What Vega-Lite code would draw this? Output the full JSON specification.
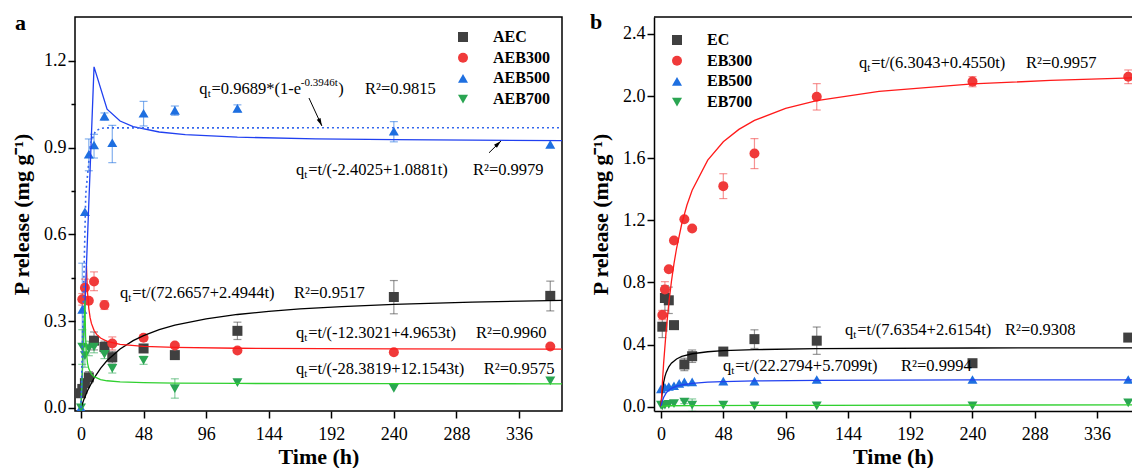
{
  "$schema": "https://vega.github.io/schema/vega-lite/v6.json",
  "background": "white",
  "padding": {"left": 9, "top": 10, "right": 0, "bottom": 0},
  "bounds": "flush",
  "spacing": 92,
  "config": {
    "font": "Liberation Serif",
    "view": {"stroke": "#000", "strokeWidth": 1.5},
    "axis": {"labelFont": "Liberation Serif", "labelFontSize": 18, "labelColor": "#000", "titleFont": "Liberation Serif", "titleFontSize": 22, "titleFontWeight": "bold", "titleColor": "#000", "domain": false, "tickColor": "#000", "tickWidth": 1.5, "grid": false},
    "legend": {"title": null, "labelFont": "Liberation Serif", "labelFontWeight": "bold", "labelFontSize": 16, "labelColor": "#000", "symbolSize": 100, "symbolOpacity": 1, "rowPadding": 4.7, "padding": 0, "labelOffset": 22, "symbolStrokeWidth": 0}
  },
  "resolve": {"scale": {"x": "independent", "y": "independent", "color": "independent", "shape": "independent", "stroke": "independent"}, "legend": {"color": "independent", "shape": "independent"}},
  "datasets": {
    "a_pts": [
      {"s": "AEC", "t": 0, "v": 0.05}, {"s": "AEC", "t": 1, "v": 0.065}, {"s": "AEC", "t": 3, "v": 0.085}, {"s": "AEC", "t": 6, "v": 0.105}, {"s": "AEC", "t": 10, "v": 0.232}, {"s": "AEC", "t": 18, "v": 0.21}, {"s": "AEC", "t": 24, "v": 0.175}, {"s": "AEC", "t": 48, "v": 0.205}, {"s": "AEC", "t": 72, "v": 0.182}, {"s": "AEC", "t": 120, "v": 0.266}, {"s": "AEC", "t": 240, "v": 0.383}, {"s": "AEC", "t": 360, "v": 0.387},
      {"s": "AEB300", "t": 1, "v": 0.375}, {"s": "AEB300", "t": 3, "v": 0.415}, {"s": "AEB300", "t": 6, "v": 0.37}, {"s": "AEB300", "t": 10, "v": 0.437}, {"s": "AEB300", "t": 18, "v": 0.355}, {"s": "AEB300", "t": 24, "v": 0.222}, {"s": "AEB300", "t": 48, "v": 0.242}, {"s": "AEB300", "t": 72, "v": 0.215}, {"s": "AEB300", "t": 120, "v": 0.198}, {"s": "AEB300", "t": 240, "v": 0.192}, {"s": "AEB300", "t": 360, "v": 0.212},
      {"s": "AEB500", "t": 0, "v": 0}, {"s": "AEB500", "t": 1, "v": 0.34}, {"s": "AEB500", "t": 3, "v": 0.678}, {"s": "AEB500", "t": 6, "v": 0.877}, {"s": "AEB500", "t": 10, "v": 0.909}, {"s": "AEB500", "t": 18, "v": 1.009}, {"s": "AEB500", "t": 24, "v": 0.917}, {"s": "AEB500", "t": 48, "v": 1.019}, {"s": "AEB500", "t": 72, "v": 1.029}, {"s": "AEB500", "t": 120, "v": 1.036}, {"s": "AEB500", "t": 240, "v": 0.957}, {"s": "AEB500", "t": 360, "v": 0.911},
      {"s": "AEB700", "t": 0, "v": 0}, {"s": "AEB700", "t": 1, "v": 0.21}, {"s": "AEB700", "t": 3, "v": 0.18}, {"s": "AEB700", "t": 6, "v": 0.205}, {"s": "AEB700", "t": 10, "v": 0.21}, {"s": "AEB700", "t": 18, "v": 0.185}, {"s": "AEB700", "t": 24, "v": 0.136}, {"s": "AEB700", "t": 48, "v": 0.164}, {"s": "AEB700", "t": 72, "v": 0.066}, {"s": "AEB700", "t": 120, "v": 0.087}, {"s": "AEB700", "t": 240, "v": 0.067}, {"s": "AEB700", "t": 360, "v": 0.093}
    ],
    "a_err": [
      {"s": "AEC", "t": 6, "lo": 0.085, "hi": 0.125}, {"s": "AEC", "t": 10, "lo": 0.2, "hi": 0.262}, {"s": "AEC", "t": 18, "lo": 0.19, "hi": 0.23}, {"s": "AEC", "t": 24, "lo": 0.155, "hi": 0.195}, {"s": "AEC", "t": 48, "lo": 0.195, "hi": 0.215}, {"s": "AEC", "t": 120, "lo": 0.236, "hi": 0.296}, {"s": "AEC", "t": 240, "lo": 0.325, "hi": 0.44}, {"s": "AEC", "t": 360, "lo": 0.335, "hi": 0.438},
      {"s": "AEB300", "t": 1, "lo": 0.355, "hi": 0.395}, {"s": "AEB300", "t": 3, "lo": 0.385, "hi": 0.445}, {"s": "AEB300", "t": 10, "lo": 0.405, "hi": 0.47}, {"s": "AEB300", "t": 18, "lo": 0.34, "hi": 0.37}, {"s": "AEB300", "t": 24, "lo": 0.2, "hi": 0.245}, {"s": "AEB300", "t": 48, "lo": 0.232, "hi": 0.252},
      {"s": "AEB500", "t": 1, "lo": 0.22, "hi": 0.5}, {"s": "AEB500", "t": 6, "lo": 0.82, "hi": 0.93}, {"s": "AEB500", "t": 10, "lo": 0.864, "hi": 0.946}, {"s": "AEB500", "t": 18, "lo": 0.995, "hi": 1.02}, {"s": "AEB500", "t": 24, "lo": 0.848, "hi": 0.977}, {"s": "AEB500", "t": 48, "lo": 0.975, "hi": 1.06}, {"s": "AEB500", "t": 72, "lo": 1.012, "hi": 1.044}, {"s": "AEB500", "t": 120, "lo": 1.024, "hi": 1.048}, {"s": "AEB500", "t": 240, "lo": 0.92, "hi": 0.99},
      {"s": "AEB700", "t": 1, "lo": 0.15, "hi": 0.27}, {"s": "AEB700", "t": 3, "lo": 0.14, "hi": 0.22}, {"s": "AEB700", "t": 6, "lo": 0.18, "hi": 0.23}, {"s": "AEB700", "t": 10, "lo": 0.19, "hi": 0.235}, {"s": "AEB700", "t": 18, "lo": 0.17, "hi": 0.2}, {"s": "AEB700", "t": 24, "lo": 0.12, "hi": 0.15}, {"s": "AEB700", "t": 48, "lo": 0.15, "hi": 0.178}, {"s": "AEB700", "t": 72, "lo": 0.033, "hi": 0.1}
    ],
    "a_fit": [
      {"s": "AEC", "t": 0, "v": 0}, {"s": "AEC", "t": 2, "v": 0.0258}, {"s": "AEC", "t": 5, "v": 0.0587}, {"s": "AEC", "t": 10, "v": 0.1024}, {"s": "AEC", "t": 15, "v": 0.1363}, {"s": "AEC", "t": 20, "v": 0.1632}, {"s": "AEC", "t": 30, "v": 0.2034}, {"s": "AEC", "t": 40, "v": 0.232}, {"s": "AEC", "t": 48, "v": 0.2495}, {"s": "AEC", "t": 60, "v": 0.2699}, {"s": "AEC", "t": 72, "v": 0.2854}, {"s": "AEC", "t": 96, "v": 0.3076}, {"s": "AEC", "t": 120, "v": 0.3226}, {"s": "AEC", "t": 144, "v": 0.3334}, {"s": "AEC", "t": 168, "v": 0.3417}, {"s": "AEC", "t": 200, "v": 0.3499}, {"s": "AEC", "t": 240, "v": 0.3575}, {"s": "AEC", "t": 300, "v": 0.3654}, {"s": "AEC", "t": 369, "v": 0.3716},
      {"s": "AEB300", "t": 4.2, "v": 0.491}, {"s": "AEB300", "t": 4.5, "v": 0.448}, {"s": "AEB300", "t": 5, "v": 0.399}, {"s": "AEB300", "t": 6, "v": 0.343}, {"s": "AEB300", "t": 7, "v": 0.3117}, {"s": "AEB300", "t": 8, "v": 0.2918}, {"s": "AEB300", "t": 10, "v": 0.2677}, {"s": "AEB300", "t": 12, "v": 0.2538}, {"s": "AEB300", "t": 15, "v": 0.2412}, {"s": "AEB300", "t": 20, "v": 0.2298}, {"s": "AEB300", "t": 30, "v": 0.2195}, {"s": "AEB300", "t": 48, "v": 0.2124}, {"s": "AEB300", "t": 72, "v": 0.2086}, {"s": "AEB300", "t": 120, "v": 0.2057}, {"s": "AEB300", "t": 240, "v": 0.2035}, {"s": "AEB300", "t": 369, "v": 0.2028},
      {"s": "AEB500", "t": 0, "v": 0}, {"s": "AEB500", "t": 10, "v": 1.1794}, {"s": "AEB500", "t": 20, "v": 1.0331}, {"s": "AEB500", "t": 30, "v": 0.992}, {"s": "AEB500", "t": 40, "v": 0.9727}, {"s": "AEB500", "t": 60, "v": 0.9541}, {"s": "AEB500", "t": 80, "v": 0.9451}, {"s": "AEB500", "t": 120, "v": 0.9363}, {"s": "AEB500", "t": 180, "v": 0.9304}, {"s": "AEB500", "t": 240, "v": 0.9276}, {"s": "AEB500", "t": 300, "v": 0.9258}, {"s": "AEB500", "t": 369, "v": 0.9245},
      {"s": "AEB700", "t": 0, "v": 0}, {"s": "AEB700", "t": 3, "v": 0.371}, {"s": "AEB700", "t": 3.5, "v": 0.2472}, {"s": "AEB700", "t": 4, "v": 0.1977}, {"s": "AEB700", "t": 5, "v": 0.1544}, {"s": "AEB700", "t": 6, "v": 0.1347}, {"s": "AEB700", "t": 8, "v": 0.1162}, {"s": "AEB700", "t": 10, "v": 0.1073}, {"s": "AEB700", "t": 15, "v": 0.0974}, {"s": "AEB700", "t": 20, "v": 0.0932}, {"s": "AEB700", "t": 30, "v": 0.0892}, {"s": "AEB700", "t": 48, "v": 0.0865}, {"s": "AEB700", "t": 72, "v": 0.085}, {"s": "AEB700", "t": 120, "v": 0.0839}, {"s": "AEB700", "t": 240, "v": 0.0831}, {"s": "AEB700", "t": 369, "v": 0.0828}
    ],
    "a_dot": [
      {"t": 0, "v": 0}, {"t": 3.66, "v": 0.7403}, {"t": 7.32, "v": 0.915}, {"t": 10.98, "v": 0.9562}, {"t": 14.64, "v": 0.9659}, {"t": 18.3, "v": 0.9682}, {"t": 369, "v": 0.9689}
    ],
    "a_lab": [{"t": -4.6, "v": 1.352, "txt": "a"}],
    "a_eq": [
      {"t": 90.8, "v": 1.103, "rest": "=0.9689*(1-e"},
      {"t": 164.9, "v": 0.8225, "rest": "=t/(-2.4025+1.0881t)"},
      {"t": 29.9, "v": 0.398, "rest": "=t/(72.6657+2.4944t)"},
      {"t": 164.9, "v": 0.2595, "rest": "=t/(-12.3021+4.9653t)"},
      {"t": 164.9, "v": 0.133, "rest": "=t/(-28.3819+12.1543t)"}
    ],
    "a_eq1": [{"t": 90.8, "v": 1.103}],
    "a_r2": [
      {"t": 217.9, "v": 1.103, "txt": "R²=0.9815"},
      {"t": 300.7, "v": 0.8225, "txt": "R²=0.9979"},
      {"t": 163.4, "v": 0.398, "txt": "R²=0.9517"},
      {"t": 303, "v": 0.2595, "txt": "R²=0.9960"},
      {"t": 309, "v": 0.133, "txt": "R²=0.9575"}
    ],
    "a_arr": [
      {"k": 1, "t": 174.9, "v": 1.0716, "t2": 184.8, "v2": 0.975},
      {"k": 2, "t": 313, "v": 0.882, "t2": 322.2, "v2": 0.923}
    ],
    "b_pts": [
      {"s": "EC", "t": 1, "v": 0.515}, {"s": "EC", "t": 3, "v": 0.7}, {"s": "EC", "t": 6, "v": 0.685}, {"s": "EC", "t": 10, "v": 0.525}, {"s": "EC", "t": 18, "v": 0.272}, {"s": "EC", "t": 24, "v": 0.325}, {"s": "EC", "t": 48, "v": 0.355}, {"s": "EC", "t": 72, "v": 0.435}, {"s": "EC", "t": 120, "v": 0.425}, {"s": "EC", "t": 240, "v": 0.28}, {"s": "EC", "t": 360, "v": 0.445},
      {"s": "EB300", "t": 1, "v": 0.59}, {"s": "EB300", "t": 3, "v": 0.755}, {"s": "EB300", "t": 6, "v": 0.885}, {"s": "EB300", "t": 10, "v": 1.07}, {"s": "EB300", "t": 18, "v": 1.207}, {"s": "EB300", "t": 24, "v": 1.147}, {"s": "EB300", "t": 48, "v": 1.42}, {"s": "EB300", "t": 72, "v": 1.63}, {"s": "EB300", "t": 120, "v": 1.995}, {"s": "EB300", "t": 240, "v": 2.093}, {"s": "EB300", "t": 360, "v": 2.124},
      {"s": "EB500", "t": 0, "v": 0.115}, {"s": "EB500", "t": 3, "v": 0.125}, {"s": "EB500", "t": 6, "v": 0.13}, {"s": "EB500", "t": 10, "v": 0.135}, {"s": "EB500", "t": 14, "v": 0.15}, {"s": "EB500", "t": 18, "v": 0.16}, {"s": "EB500", "t": 24, "v": 0.16}, {"s": "EB500", "t": 48, "v": 0.165}, {"s": "EB500", "t": 72, "v": 0.165}, {"s": "EB500", "t": 120, "v": 0.175}, {"s": "EB500", "t": 240, "v": 0.175}, {"s": "EB500", "t": 360, "v": 0.175},
      {"s": "EB700", "t": 0, "v": 0.01}, {"s": "EB700", "t": 1, "v": 0.005}, {"s": "EB700", "t": 3, "v": 0.01}, {"s": "EB700", "t": 6, "v": 0.015}, {"s": "EB700", "t": 10, "v": 0.02}, {"s": "EB700", "t": 18, "v": 0.03}, {"s": "EB700", "t": 24, "v": 0.01}, {"s": "EB700", "t": 48, "v": 0.01}, {"s": "EB700", "t": 72, "v": 0.005}, {"s": "EB700", "t": 120, "v": 0.005}, {"s": "EB700", "t": 240, "v": 0.005}, {"s": "EB700", "t": 360, "v": 0.025}
    ],
    "b_err": [
      {"s": "EC", "t": 1, "lo": 0.445, "hi": 0.585}, {"s": "EC", "t": 3, "lo": 0.62, "hi": 0.78}, {"s": "EC", "t": 6, "lo": 0.6, "hi": 0.77}, {"s": "EC", "t": 10, "lo": 0.5, "hi": 0.55}, {"s": "EC", "t": 18, "lo": 0.232, "hi": 0.312}, {"s": "EC", "t": 24, "lo": 0.285, "hi": 0.365}, {"s": "EC", "t": 48, "lo": 0.345, "hi": 0.365}, {"s": "EC", "t": 72, "lo": 0.375, "hi": 0.495}, {"s": "EC", "t": 120, "lo": 0.337, "hi": 0.513}, {"s": "EC", "t": 360, "lo": 0.425, "hi": 0.465},
      {"s": "EB300", "t": 1, "lo": 0.56, "hi": 0.62}, {"s": "EB300", "t": 3, "lo": 0.705, "hi": 0.805}, {"s": "EB300", "t": 48, "lo": 1.34, "hi": 1.5}, {"s": "EB300", "t": 72, "lo": 1.533, "hi": 1.726}, {"s": "EB300", "t": 120, "lo": 1.91, "hi": 2.08}, {"s": "EB300", "t": 240, "lo": 2.06, "hi": 2.125}, {"s": "EB300", "t": 360, "lo": 2.08, "hi": 2.168},
      {"s": "EB700", "t": 18, "lo": 0.02, "hi": 0.04}, {"s": "EB700", "t": 24, "lo": -0.03, "hi": 0.05}
    ],
    "b_fit": [
      {"s": "EC", "t": 0, "v": 0}, {"s": "EC", "t": 0.5, "v": 0.0559}, {"s": "EC", "t": 1, "v": 0.0976}, {"s": "EC", "t": 2, "v": 0.1554}, {"s": "EC", "t": 3, "v": 0.1938}, {"s": "EC", "t": 4, "v": 0.221}, {"s": "EC", "t": 6, "v": 0.2572}, {"s": "EC", "t": 8, "v": 0.2801}, {"s": "EC", "t": 12, "v": 0.3075}, {"s": "EC", "t": 16, "v": 0.3234}, {"s": "EC", "t": 24, "v": 0.3409}, {"s": "EC", "t": 36, "v": 0.3537}, {"s": "EC", "t": 48, "v": 0.3604}, {"s": "EC", "t": 72, "v": 0.3675}, {"s": "EC", "t": 120, "v": 0.3733}, {"s": "EC", "t": 240, "v": 0.3778}, {"s": "EC", "t": 366, "v": 0.3793},
      {"s": "EB300", "t": 0, "v": 0}, {"s": "EB300", "t": 1, "v": 0.148}, {"s": "EB300", "t": 2, "v": 0.2772}, {"s": "EB300", "t": 4, "v": 0.4924}, {"s": "EB300", "t": 6, "v": 0.6642}, {"s": "EB300", "t": 8, "v": 0.8045}, {"s": "EB300", "t": 10, "v": 0.9213}, {"s": "EB300", "t": 12, "v": 1.0201}, {"s": "EB300", "t": 16, "v": 1.1778}, {"s": "EB300", "t": 20, "v": 1.2984}, {"s": "EB300", "t": 24, "v": 1.3934}, {"s": "EB300", "t": 36, "v": 1.587}, {"s": "EB300", "t": 48, "v": 1.7055}, {"s": "EB300", "t": 60, "v": 1.7855}, {"s": "EB300", "t": 72, "v": 1.8431}, {"s": "EB300", "t": 96, "v": 1.9207}, {"s": "EB300", "t": 120, "v": 1.9704}, {"s": "EB300", "t": 168, "v": 2.0305}, {"s": "EB300", "t": 240, "v": 2.0778}, {"s": "EB300", "t": 300, "v": 2.1008}, {"s": "EB300", "t": 366, "v": 2.1175},
      {"s": "EB500", "t": 0, "v": 0}, {"s": "EB500", "t": 1, "v": 0.0357}, {"s": "EB500", "t": 2, "v": 0.0593}, {"s": "EB500", "t": 4, "v": 0.0887}, {"s": "EB500", "t": 6, "v": 0.1061}, {"s": "EB500", "t": 8, "v": 0.1177}, {"s": "EB500", "t": 12, "v": 0.1322}, {"s": "EB500", "t": 16, "v": 0.1408}, {"s": "EB500", "t": 24, "v": 0.1507}, {"s": "EB500", "t": 36, "v": 0.158}, {"s": "EB500", "t": 48, "v": 0.162}, {"s": "EB500", "t": 72, "v": 0.1661}, {"s": "EB500", "t": 120, "v": 0.1696}, {"s": "EB500", "t": 240, "v": 0.1723}, {"s": "EB500", "t": 366, "v": 0.1733},
      {"s": "EB700", "t": 0, "v": 0}, {"s": "EB700", "t": 2, "v": 0.004}, {"s": "EB700", "t": 6, "v": 0.006}, {"s": "EB700", "t": 24, "v": 0.007}, {"s": "EB700", "t": 120, "v": 0.009}, {"s": "EB700", "t": 366, "v": 0.012}
    ],
    "b_lab": [{"t": -5.4, "v": 2.509, "txt": "b"}],
    "b_eq": [
      {"t": 152.5, "v": 2.216, "rest": "=t/(6.3043+0.4550t)"},
      {"t": 141.8, "v": 0.492, "rest": "=t/(7.6354+2.6154t)"},
      {"t": 47.8, "v": 0.262, "rest": "=t/(22.2794+5.7099t)"}
    ],
    "b_r2": [
      {"t": 281.2, "v": 2.216, "txt": "R²=0.9957"},
      {"t": 265, "v": 0.492, "txt": "R²=0.9308"},
      {"t": 185, "v": 0.262, "txt": "R²=0.9994"}
    ],
    "b_top": [{"v": 2.509}]
  },
  "hconcat": [
    {
      "width": 487,
      "height": 394,
      "layer": [
        {
          "data": {"name": "a_err"},
          "mark": {"type": "rule", "strokeWidth": 1.2, "opacity": 0.55},
          "encoding": {
            "x": {"field": "t", "type": "quantitative", "title": "Time (h)", "scale": {"domain": [-4.6, 369], "nice": false, "zero": false}},
            "y": {"field": "lo", "type": "quantitative", "title": "P release (mg g⁻¹)", "scale": {"domain": [-0.0114, 1.352], "nice": false, "zero": false}},
            "y2": {"field": "hi"},
            "color": {"field": "s", "type": "nominal", "scale": {"domain": ["AEC", "AEB300", "AEB500", "AEB700"], "range": ["#404040", "#f03a3a", "#1e6fe0", "#2aa552"]}}
          }
        },
        {
          "data": {"name": "a_err"},
          "mark": {"type": "tick", "orient": "horizontal", "size": 8, "thickness": 1.2, "opacity": 0.55},
          "encoding": {
            "x": {"field": "t", "type": "quantitative", "scale": {"domain": [-4.6, 369], "nice": false, "zero": false}},
            "y": {"field": "lo", "type": "quantitative", "scale": {"domain": [-0.0114, 1.352], "nice": false, "zero": false}},
            "color": {"field": "s", "type": "nominal", "scale": {"domain": ["AEC", "AEB300", "AEB500", "AEB700"], "range": ["#404040", "#f03a3a", "#1e6fe0", "#2aa552"]}}
          }
        },
        {
          "data": {"name": "a_err"},
          "mark": {"type": "tick", "orient": "horizontal", "size": 8, "thickness": 1.2, "opacity": 0.55},
          "encoding": {
            "x": {"field": "t", "type": "quantitative", "scale": {"domain": [-4.6, 369], "nice": false, "zero": false}},
            "y": {"field": "hi", "type": "quantitative", "scale": {"domain": [-0.0114, 1.352], "nice": false, "zero": false}},
            "color": {"field": "s", "type": "nominal", "scale": {"domain": ["AEC", "AEB300", "AEB500", "AEB700"], "range": ["#404040", "#f03a3a", "#1e6fe0", "#2aa552"]}}
          }
        },
        {
          "data": {"name": "a_pts"},
          "mark": {"type": "point", "filled": true, "size": 100, "opacity": 1, "clip": true},
          "encoding": {
            "x": {"field": "t", "type": "quantitative", "title": "Time (h)", "scale": {"domain": [-4.6, 369], "nice": false, "zero": false}, "axis": {"values": [0, 48, 96, 144, 192, 240, 288, 336], "format": "d", "tickSize": 7, "labelPadding": 7, "titlePadding": 3}},
            "y": {"field": "v", "type": "quantitative", "title": "P release (mg g⁻¹)", "scale": {"domain": [-0.0114, 1.352], "nice": false, "zero": false}, "axis": {"values": [0, 0.15, 0.3, 0.45, 0.6, 0.75, 0.9, 1.05, 1.2], "labelExpr": "abs(datum.value/0.3-round(datum.value/0.3))<0.001 ? format(datum.value,'.1f') : ''", "tickSize": {"condition": {"test": "abs(datum.value/0.3-round(datum.value/0.3))<0.001", "value": 7}, "value": 4}, "labelPadding": 2, "titlePadding": 10}},
            "color": {"field": "s", "type": "nominal", "title": null, "scale": {"domain": ["AEC", "AEB300", "AEB500", "AEB700"], "range": ["#404040", "#f03a3a", "#1e6fe0", "#2aa552"]}, "legend": {"orient": "top-right", "offset": 12, "symbolOpacity": 1}},
            "shape": {"field": "s", "type": "nominal", "title": null, "scale": {"domain": ["AEC", "AEB300", "AEB500", "AEB700"], "range": ["square", "circle", "triangle-up", "triangle-down"]}, "legend": {"orient": "top-right", "offset": 12, "symbolOpacity": 1}}
          }
        },
        {
          "data": {"name": "a_fit"},
          "mark": {"type": "line", "strokeWidth": 1.3, "clip": true},
          "encoding": {
            "x": {"field": "t", "type": "quantitative", "scale": {"domain": [-4.6, 369], "nice": false, "zero": false}},
            "y": {"field": "v", "type": "quantitative", "scale": {"domain": [-0.0114, 1.352], "nice": false, "zero": false}},
            "stroke": {"field": "s", "type": "nominal", "scale": {"domain": ["AEC", "AEB300", "AEB500", "AEB700"], "range": ["#000000", "#ff1a1a", "#2040f0", "#30d030"]}, "legend": null}
          }
        },
        {
          "data": {"name": "a_dot"},
          "mark": {"type": "line", "strokeWidth": 1.6, "strokeDash": [2, 3], "color": "#3366ee", "clip": true},
          "encoding": {
            "x": {"field": "t", "type": "quantitative", "scale": {"domain": [-4.6, 369], "nice": false, "zero": false}},
            "y": {"field": "v", "type": "quantitative", "scale": {"domain": [-0.0114, 1.352], "nice": false, "zero": false}}
          }
        },
        {
          "data": {"name": "a_lab"},
          "mark": {"type": "text", "align": "left", "baseline": "alphabetic", "fontSize": 22, "fontWeight": "bold", "dx": -60, "dy": 12.5, "font": "Liberation Serif", "color": "#000"},
          "encoding": {
            "x": {"field": "t", "type": "quantitative", "scale": {"domain": [-4.6, 369], "nice": false, "zero": false}},
            "y": {"field": "v", "type": "quantitative", "scale": {"domain": [-0.0114, 1.352], "nice": false, "zero": false}},
            "text": {"field": "txt"}
          }
        },
        {
          "data": {"name": "a_eq"},
          "mark": {"type": "text", "text": "q", "align": "left", "baseline": "middle", "fontSize": 16.5, "font": "Liberation Serif", "color": "#000"},
          "encoding": {
            "x": {"field": "t", "type": "quantitative", "scale": {"domain": [-4.6, 369], "nice": false, "zero": false}},
            "y": {"field": "v", "type": "quantitative", "scale": {"domain": [-0.0114, 1.352], "nice": false, "zero": false}}
          }
        },
        {
          "data": {"name": "a_eq"},
          "mark": {"type": "text", "text": "t", "align": "left", "baseline": "middle", "fontSize": 11, "dx": 8.3, "dy": 5, "font": "Liberation Serif", "color": "#000"},
          "encoding": {
            "x": {"field": "t", "type": "quantitative", "scale": {"domain": [-4.6, 369], "nice": false, "zero": false}},
            "y": {"field": "v", "type": "quantitative", "scale": {"domain": [-0.0114, 1.352], "nice": false, "zero": false}}
          }
        },
        {
          "data": {"name": "a_eq"},
          "mark": {"type": "text", "align": "left", "baseline": "middle", "fontSize": 16.5, "dx": 12.2, "font": "Liberation Serif", "color": "#000"},
          "encoding": {
            "x": {"field": "t", "type": "quantitative", "scale": {"domain": [-4.6, 369], "nice": false, "zero": false}},
            "y": {"field": "v", "type": "quantitative", "scale": {"domain": [-0.0114, 1.352], "nice": false, "zero": false}},
            "text": {"field": "rest"}
          }
        },
        {
          "data": {"name": "a_eq1"},
          "mark": {"type": "text", "text": "-0.3946t", "align": "left", "baseline": "middle", "fontSize": 11, "dx": 101.5, "dy": -6, "font": "Liberation Serif", "color": "#000"},
          "encoding": {
            "x": {"field": "t", "type": "quantitative", "scale": {"domain": [-4.6, 369], "nice": false, "zero": false}},
            "y": {"field": "v", "type": "quantitative", "scale": {"domain": [-0.0114, 1.352], "nice": false, "zero": false}}
          }
        },
        {
          "data": {"name": "a_eq1"},
          "mark": {"type": "text", "text": ")", "align": "left", "baseline": "middle", "fontSize": 16.5, "dx": 139, "font": "Liberation Serif", "color": "#000"},
          "encoding": {
            "x": {"field": "t", "type": "quantitative", "scale": {"domain": [-4.6, 369], "nice": false, "zero": false}},
            "y": {"field": "v", "type": "quantitative", "scale": {"domain": [-0.0114, 1.352], "nice": false, "zero": false}}
          }
        },
        {
          "data": {"name": "a_r2"},
          "mark": {"type": "text", "align": "left", "baseline": "middle", "fontSize": 16.5, "font": "Liberation Serif", "color": "#000"},
          "encoding": {
            "x": {"field": "t", "type": "quantitative", "scale": {"domain": [-4.6, 369], "nice": false, "zero": false}},
            "y": {"field": "v", "type": "quantitative", "scale": {"domain": [-0.0114, 1.352], "nice": false, "zero": false}},
            "text": {"field": "txt"}
          }
        },
        {
          "data": {"name": "a_arr"},
          "mark": {"type": "rule", "color": "#000", "strokeWidth": 1},
          "encoding": {
            "x": {"field": "t", "type": "quantitative", "scale": {"domain": [-4.6, 369], "nice": false, "zero": false}},
            "y": {"field": "v", "type": "quantitative", "scale": {"domain": [-0.0114, 1.352], "nice": false, "zero": false}},
            "x2": {"field": "t2"},
            "y2": {"field": "v2"}
          }
        },
        {
          "data": {"name": "a_arr"},
          "transform": [{"filter": "datum.k == 1"}],
          "mark": {"type": "point", "shape": "M0,0L-0.6,2.2L0.6,2.2Z", "filled": true, "color": "#000", "size": 49, "angle": 155, "opacity": 1},
          "encoding": {
            "x": {"field": "t2", "type": "quantitative", "scale": {"domain": [-4.6, 369], "nice": false, "zero": false}},
            "y": {"field": "v2", "type": "quantitative", "scale": {"domain": [-0.0114, 1.352], "nice": false, "zero": false}}
          }
        },
        {
          "data": {"name": "a_arr"},
          "transform": [{"filter": "datum.k == 2"}],
          "mark": {"type": "point", "shape": "M0,0L-0.6,2.2L0.6,2.2Z", "filled": true, "color": "#000", "size": 49, "angle": 46, "opacity": 1},
          "encoding": {
            "x": {"field": "t2", "type": "quantitative", "scale": {"domain": [-4.6, 369], "nice": false, "zero": false}},
            "y": {"field": "v2", "type": "quantitative", "scale": {"domain": [-0.0114, 1.352], "nice": false, "zero": false}}
          }
        }
      ]
    },
    {
      "width": 478,
      "height": 394,
      "view": {"stroke": null},
      "layer": [
        {
          "data": {"name": "b_top"},
          "mark": {"type": "rule", "color": "#000", "strokeWidth": 1.5},
          "encoding": {
            "y": {"field": "v", "type": "quantitative", "scale": {"domain": [-0.0277, 2.509], "nice": false, "zero": false}}
          }
        },
        {
          "data": {"name": "b_err"},
          "mark": {"type": "rule", "strokeWidth": 1.2, "opacity": 0.55, "clip": true},
          "encoding": {
            "x": {"field": "t", "type": "quantitative", "title": "Time (h)", "scale": {"domain": [-5.4, 362.9], "nice": false, "zero": false}},
            "y": {"field": "lo", "type": "quantitative", "title": "P release (mg g⁻¹)", "scale": {"domain": [-0.0277, 2.509], "nice": false, "zero": false}},
            "y2": {"field": "hi"},
            "color": {"field": "s", "type": "nominal", "scale": {"domain": ["EC", "EB300", "EB500", "EB700"], "range": ["#404040", "#f03a3a", "#1e6fe0", "#2aa552"]}}
          }
        },
        {
          "data": {"name": "b_err"},
          "mark": {"type": "tick", "orient": "horizontal", "size": 8, "thickness": 1.2, "opacity": 0.55, "clip": true},
          "encoding": {
            "x": {"field": "t", "type": "quantitative", "scale": {"domain": [-5.4, 362.9], "nice": false, "zero": false}},
            "y": {"field": "lo", "type": "quantitative", "scale": {"domain": [-0.0277, 2.509], "nice": false, "zero": false}},
            "color": {"field": "s", "type": "nominal", "scale": {"domain": ["EC", "EB300", "EB500", "EB700"], "range": ["#404040", "#f03a3a", "#1e6fe0", "#2aa552"]}}
          }
        },
        {
          "data": {"name": "b_err"},
          "mark": {"type": "tick", "orient": "horizontal", "size": 8, "thickness": 1.2, "opacity": 0.55, "clip": true},
          "encoding": {
            "x": {"field": "t", "type": "quantitative", "scale": {"domain": [-5.4, 362.9], "nice": false, "zero": false}},
            "y": {"field": "hi", "type": "quantitative", "scale": {"domain": [-0.0277, 2.509], "nice": false, "zero": false}},
            "color": {"field": "s", "type": "nominal", "scale": {"domain": ["EC", "EB300", "EB500", "EB700"], "range": ["#404040", "#f03a3a", "#1e6fe0", "#2aa552"]}}
          }
        },
        {
          "data": {"name": "b_pts"},
          "mark": {"type": "point", "filled": true, "size": 100, "opacity": 1, "clip": true},
          "encoding": {
            "x": {"field": "t", "type": "quantitative", "title": "Time (h)", "scale": {"domain": [-5.4, 362.9], "nice": false, "zero": false}, "axis": {"values": [0, 48, 96, 144, 192, 240, 288, 336], "format": "d", "tickSize": 7, "labelPadding": 7, "titlePadding": 3, "domain": true, "domainColor": "#000", "domainWidth": 1.5}},
            "y": {"field": "v", "type": "quantitative", "title": "P release (mg g⁻¹)", "scale": {"domain": [-0.0277, 2.509], "nice": false, "zero": false}, "axis": {"values": [0, 0.2, 0.4, 0.6, 0.8, 1, 1.2, 1.4, 1.6, 1.8, 2, 2.2, 2.4], "labelExpr": "abs(datum.value/0.4-round(datum.value/0.4))<0.001 ? format(datum.value,'.1f') : ''", "tickSize": {"condition": {"test": "abs(datum.value/0.4-round(datum.value/0.4))<0.001", "value": 7}, "value": 4}, "labelPadding": 2, "titlePadding": 10, "domain": true, "domainColor": "#000", "domainWidth": 1.5}},
            "color": {"field": "s", "type": "nominal", "title": null, "scale": {"domain": ["EC", "EB300", "EB500", "EB700"], "range": ["#404040", "#f03a3a", "#1e6fe0", "#2aa552"]}, "legend": {"orient": "top-left", "offset": 15, "symbolOpacity": 1}},
            "shape": {"field": "s", "type": "nominal", "title": null, "scale": {"domain": ["EC", "EB300", "EB500", "EB700"], "range": ["square", "circle", "triangle-up", "triangle-down"]}, "legend": {"orient": "top-left", "offset": 15, "symbolOpacity": 1}}
          }
        },
        {
          "data": {"name": "b_fit"},
          "mark": {"type": "line", "strokeWidth": 1.3, "clip": true},
          "encoding": {
            "x": {"field": "t", "type": "quantitative", "scale": {"domain": [-5.4, 362.9], "nice": false, "zero": false}},
            "y": {"field": "v", "type": "quantitative", "scale": {"domain": [-0.0277, 2.509], "nice": false, "zero": false}},
            "stroke": {"field": "s", "type": "nominal", "scale": {"domain": ["EC", "EB300", "EB500", "EB700"], "range": ["#000000", "#ff1a1a", "#2040f0", "#30d030"]}, "legend": null}
          }
        },
        {
          "data": {"name": "b_lab"},
          "mark": {"type": "text", "align": "left", "baseline": "alphabetic", "fontSize": 22, "fontWeight": "bold", "dx": -64, "dy": 12, "font": "Liberation Serif", "color": "#000"},
          "encoding": {
            "x": {"field": "t", "type": "quantitative", "scale": {"domain": [-5.4, 362.9], "nice": false, "zero": false}},
            "y": {"field": "v", "type": "quantitative", "scale": {"domain": [-0.0277, 2.509], "nice": false, "zero": false}},
            "text": {"field": "txt"}
          }
        },
        {
          "data": {"name": "b_eq"},
          "mark": {"type": "text", "text": "q", "align": "left", "baseline": "middle", "fontSize": 16.5, "font": "Liberation Serif", "color": "#000"},
          "encoding": {
            "x": {"field": "t", "type": "quantitative", "scale": {"domain": [-5.4, 362.9], "nice": false, "zero": false}},
            "y": {"field": "v", "type": "quantitative", "scale": {"domain": [-0.0277, 2.509], "nice": false, "zero": false}}
          }
        },
        {
          "data": {"name": "b_eq"},
          "mark": {"type": "text", "text": "t", "align": "left", "baseline": "middle", "fontSize": 11, "dx": 8.3, "dy": 5, "font": "Liberation Serif", "color": "#000"},
          "encoding": {
            "x": {"field": "t", "type": "quantitative", "scale": {"domain": [-5.4, 362.9], "nice": false, "zero": false}},
            "y": {"field": "v", "type": "quantitative", "scale": {"domain": [-0.0277, 2.509], "nice": false, "zero": false}}
          }
        },
        {
          "data": {"name": "b_eq"},
          "mark": {"type": "text", "align": "left", "baseline": "middle", "fontSize": 16.5, "dx": 12.2, "font": "Liberation Serif", "color": "#000"},
          "encoding": {
            "x": {"field": "t", "type": "quantitative", "scale": {"domain": [-5.4, 362.9], "nice": false, "zero": false}},
            "y": {"field": "v", "type": "quantitative", "scale": {"domain": [-0.0277, 2.509], "nice": false, "zero": false}},
            "text": {"field": "rest"}
          }
        },
        {
          "data": {"name": "b_r2"},
          "mark": {"type": "text", "align": "left", "baseline": "middle", "fontSize": 16.5, "font": "Liberation Serif", "color": "#000"},
          "encoding": {
            "x": {"field": "t", "type": "quantitative", "scale": {"domain": [-5.4, 362.9], "nice": false, "zero": false}},
            "y": {"field": "v", "type": "quantitative", "scale": {"domain": [-0.0277, 2.509], "nice": false, "zero": false}},
            "text": {"field": "txt"}
          }
        }
      ]
    }
  ]
}
